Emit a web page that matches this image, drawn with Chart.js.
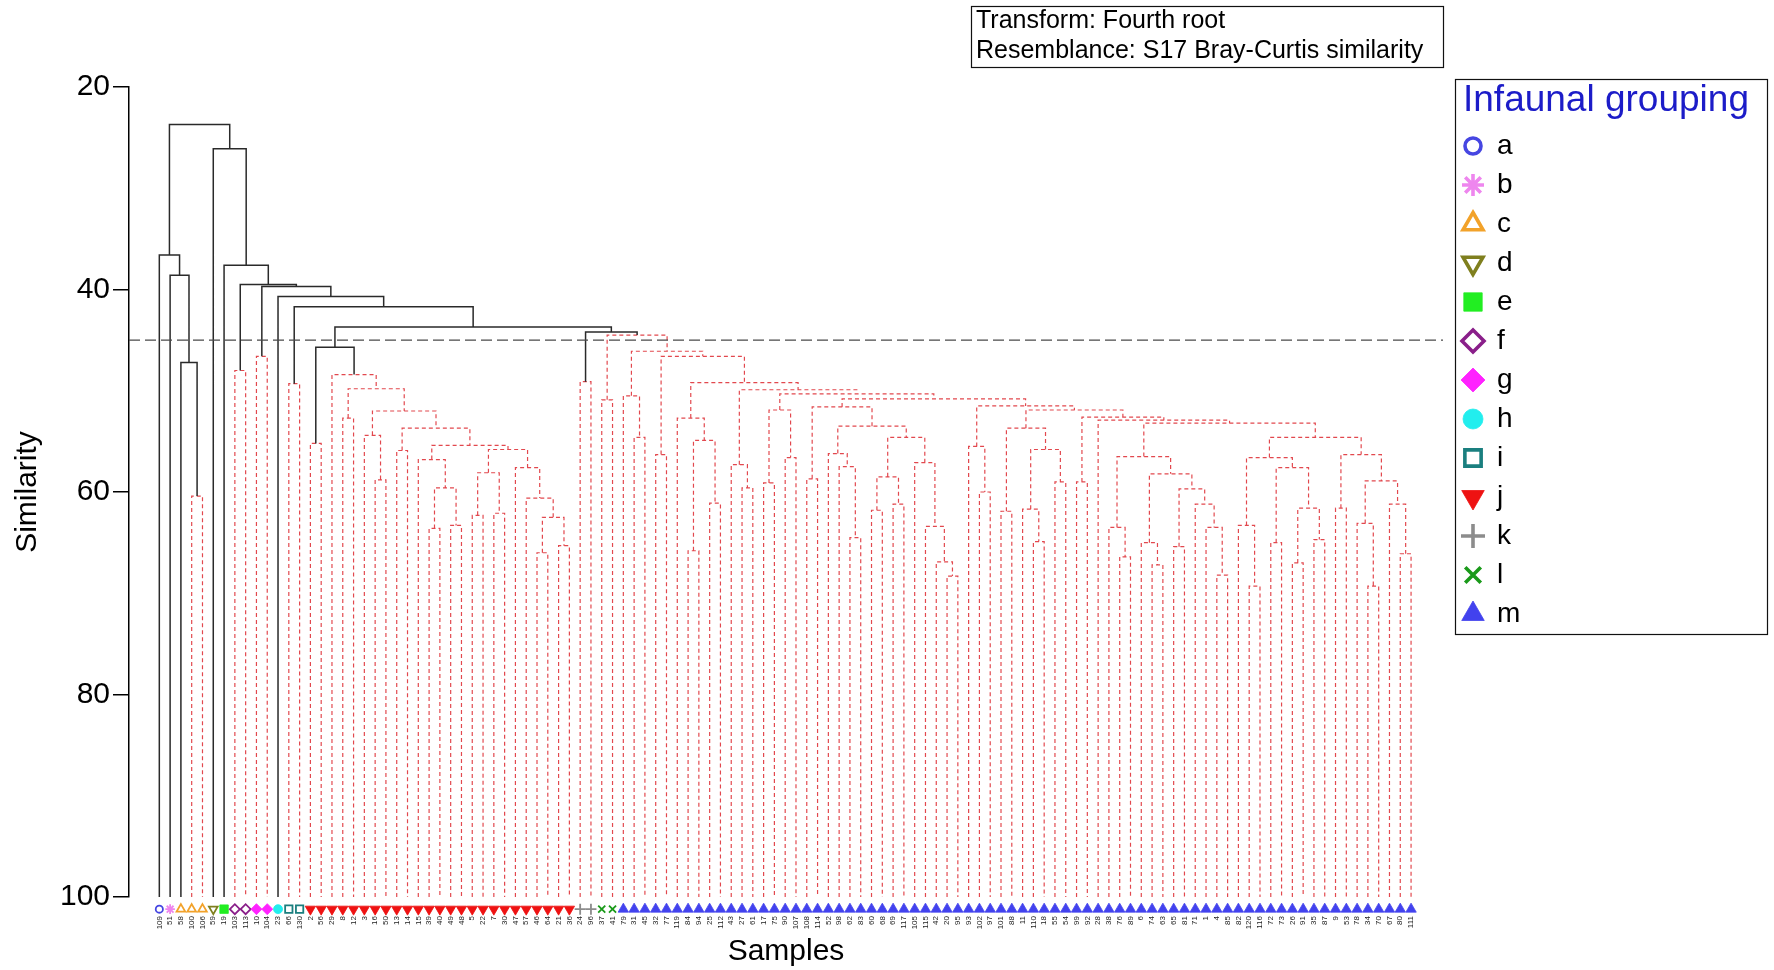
<!DOCTYPE html>
<html>
<head>
<meta charset="utf-8">
<title>Infaunal grouping dendrogram</title>
<script src="https://cdn.jsdelivr.net/npm/chart.js@4/dist/chart.umd.min.js"></script>
<style>
  html, body { margin: 0; padding: 0; background: #ffffff; overflow: hidden; }
  #wrap { width: 1774px; height: 970px; position: relative; }
</style>
</head>
<body>
<div id="wrap"><canvas id="dendro" width="1774" height="970"></canvas></div>
<script>
// ---- Samples in dendrogram leaf order ----
const sampleLabels = [
  '109','51','58','100','106','59','19','103','113','10','104','23','66','130',
  '2','56','29','8','12','3','16','50','13','14','15','39','40','49','48','5','22','7','30','47','57','46','64','21','36',
  '24','96','37','41',
  '79','31','45','32','77','119','84','94','25','112','43','27','61','17','75','90','107','108','114','52',
  '98','62','83','60','68','69','117','105','115','42','20','95','93','102','97','101','88','11','110','18',
  '55','54','99','92','28','38','76','89','6','74','63','65','81','71','1','4','85','82','120','116',
  '72','73','26','91','35','87','9','53','78','34','70','67','80','111'
];

// Infaunal group of each sample, same order as sampleLabels
const sampleGroups = (
  'abcccdeffgghii' +
  'jjjjjjjjjj' + 'jjjjjjjjjj' + 'jjjjj' +
  'kkll' +
  'mmmmmmmmmm' + 'mmmmmmmmmm' + 'mmmmmmmmmm' + 'mmmmmmmmmm' +
  'mmmmmmmmmm' + 'mmmmmmmmmm' + 'mmmmmmmmmm' + 'mmmm'
).split('');

const groupKeys = ['a','b','c','d','e','f','g','h','i','j','k','l','m'];

// ---- Group-average linkage ----
// Row k joins joinLeft[k] and joinRight[k]; ids below the sample count are samples,
// id = sampleCount + k refers to the node created by row k.
const joinLeft = [
  3, 2, 1, 0, 7, 9, 12, 14, 17, 20,
  19, 22, 25, 27, 129, 24, 29, 31, 133, 35,
  37, 136, 34, 33, 135, 132, 128, 127, 125, 16,
  124, 39, 41, 44, 43, 46, 49, 51, 153, 48,
  54, 53, 56, 58, 159, 60, 64, 63, 62, 66,
  68, 166, 73, 72, 71, 70, 168, 165, 162, 76,
  75, 78, 81, 80, 83, 180, 178, 85, 89, 88,
  92, 91, 94, 98, 97, 96, 189, 188, 186, 101,
  100, 103, 105, 107, 199, 198, 197, 109, 112, 111,
  115, 114, 206, 204, 203, 195, 87, 184, 183, 177,
  175, 161, 158, 156, 152, 151, 149, 148, 147, 123,
  11, 122, 121, 6, 5, 120
];
const joinRight = [
  4, 117, 118, 119, 8, 10, 13, 15, 18, 21,
  126, 23, 26, 28, 130, 131, 30, 32, 134, 36,
  38, 137, 138, 139, 140, 141, 142, 143, 144, 145,
  146, 40, 42, 45, 150, 47, 50, 52, 154, 155,
  55, 157, 57, 59, 160, 61, 65, 163, 164, 67,
  69, 167, 74, 169, 170, 171, 172, 173, 174, 77,
  176, 79, 82, 179, 84, 181, 182, 86, 90, 185,
  93, 187, 95, 99, 190, 191, 192, 193, 194, 102,
  196, 104, 106, 108, 200, 201, 202, 110, 113, 205,
  116, 207, 208, 209, 210, 211, 212, 213, 214, 215,
  216, 217, 218, 219, 220, 221, 222, 223, 224, 225,
  226, 227, 228, 229, 230, 231
];
const joinSimilarity = [
  60.4, 47.2, 38.6, 36.6, 48.0, 46.6, 49.3, 55.2, 52.7, 58.8,
  54.4, 55.9, 63.6, 63.3, 59.6, 56.8, 62.3, 62.1, 58.1, 66.0,
  65.3, 62.5, 60.6, 57.6, 55.8, 55.4, 53.7, 52.0, 49.8, 48.4,
  45.7, 49.1, 50.9, 54.6, 50.5, 56.3, 65.8, 61.1, 54.9, 52.7,
  59.6, 57.3, 59.1, 56.6, 51.9, 58.7, 64.5, 57.5, 56.2, 61.8,
  61.2, 58.5, 68.3, 66.9, 63.4, 57.1, 54.6, 53.5, 51.6, 60.0,
  55.5, 61.9, 64.9, 61.7, 59.0, 55.8, 53.7, 59.0, 66.4, 63.5,
  67.2, 65.0, 65.4, 68.2, 63.5, 61.2, 59.7, 58.2, 56.5, 69.3,
  63.3, 65.0, 67.0, 64.7, 61.6, 57.6, 56.6, 61.6, 69.3, 63.1,
  66.1, 61.2, 58.9, 56.3, 54.6, 53.2, 52.9, 52.6, 51.9, 51.5,
  50.8, 50.3, 49.9, 49.2, 46.6, 46.1, 44.5, 44.2, 43.7, 41.7,
  40.7, 39.7, 39.5, 37.6, 26.1, 23.7
];
// SIMPROF result per join: 1 = significant structure (solid black), 0 = not significant (red dashed)
const joinSignificant = [
  0, 1, 1, 1, 0, 0, 0, 0, 0, 0,
  0, 0, 0, 0, 0, 0, 0, 0, 0, 0,
  0, 0, 0, 0, 0, 0, 0, 0, 0, 0,
  1, 0, 0, 0, 0, 0, 0, 0, 0, 0,
  0, 0, 0, 0, 0, 0, 0, 0, 0, 0,
  0, 0, 0, 0, 0, 0, 0, 0, 0, 0,
  0, 0, 0, 0, 0, 0, 0, 0, 0, 0,
  0, 0, 0, 0, 0, 0, 0, 0, 0, 0,
  0, 0, 0, 0, 0, 0, 0, 0, 0, 0,
  0, 0, 0, 0, 0, 0, 0, 0, 0, 0,
  0, 0, 0, 0, 0, 0, 0, 1, 1, 1,
  1, 1, 1, 1, 1, 1
];

const cutSimilarity = 45;            // slice level drawn as a dashed line
const similarityTicks = [20, 40, 60, 80, 100];

// ---- Styling ----
const FONT = '"Liberation Sans", Arial, Helvetica, sans-serif';
const groupStyle = {
  a: { shape: 'circle',   rot: 0,   color: '#4646e2', filled: false, r: 3.6, lr: 8.0 },
  b: { shape: 'star',     rot: 0,   color: '#ee86ee', filled: false, r: 4.8, lr: 11 },
  c: { shape: 'triangle', rot: 0,   color: '#f2a22a', filled: false, r: 5.0, lr: 11.5 },
  d: { shape: 'triangle', rot: 180, color: '#7f7f1e', filled: false, r: 5.0, lr: 11.5 },
  e: { shape: 'rect',     rot: 0,   color: '#22ee22', filled: true,  r: 6.0, lr: 13 },
  f: { shape: 'rectRot',  rot: 0,   color: '#8a1f8a', filled: false, r: 5.0, lr: 11 },
  g: { shape: 'rectRot',  rot: 0,   color: '#ff22ff', filled: true,  r: 5.5, lr: 12 },
  h: { shape: 'circle',   rot: 0,   color: '#22eeee', filled: true,  r: 4.5, lr: 10 },
  i: { shape: 'rect',     rot: 0,   color: '#1a7f7f', filled: false, r: 5.2, lr: 11.5 },
  j: { shape: 'triangle', rot: 180, color: '#ee1212', filled: true,  r: 6.0, lr: 13 },
  k: { shape: 'cross',    rot: 0,   color: '#8c8c8c', filled: false, r: 5.5, lr: 12 },
  l: { shape: 'crossRot', rot: 0,   color: '#1a9a1a', filled: false, r: 5.0, lr: 11 },
  m: { shape: 'triangle', rot: 0,   color: '#4242ee', filled: true,  r: 6.0, lr: 13 }
};

// ---- Build dendrogram paths from the linkage ----
const nodeX = sampleLabels.map((_, i) => i);
const nodeTop = sampleLabels.map(() => 100);
joinLeft.forEach((l, k) => {
  const r = joinRight[k];
  nodeX.push((nodeX[l] + nodeX[r]) / 2);
  nodeTop.push(joinSimilarity[k]);
});

const solidPath = [];
const dashedPath = [];
joinLeft.forEach((l, k) => {
  const r = joinRight[k];
  const h = joinSimilarity[k];
  const pts = [
    { x: nodeX[l], y: nodeTop[l] },
    { x: nodeX[l], y: h },
    { x: nodeX[r], y: h },
    { x: nodeX[r], y: nodeTop[r] },
    { x: nodeX[r], y: null }
  ];
  (joinSignificant[k] ? solidPath : dashedPath).push(...pts);
});

const xMin = -2.81, xMax = 118.96;
const markerRow = 101.2;  // sample symbols sit just below the 100 line

// Draws one marker with Chart.js' own point renderer
function mark(c, s, x, y, radius, hollowWidth) {
  c.save();
  c.fillStyle = s.filled ? s.color : 'rgba(0,0,0,0)';
  c.strokeStyle = s.color;
  c.lineWidth = s.filled ? 0.8 : hollowWidth;
  if (Chart.helpers && Chart.helpers.drawPoint) {
    Chart.helpers.drawPoint(c, { pointStyle: s.shape, rotation: s.rot, radius: radius, borderWidth: c.lineWidth }, x, y);
  }
  c.restore();
}

// ---- Plugins ----
const whiteBackground = {
  id: 'whiteBackground',
  beforeDraw(chart) {
    const c = chart.ctx;
    c.save();
    c.fillStyle = '#ffffff';
    c.fillRect(0, 0, chart.width, chart.height);
    c.restore();
  }
};

// Group symbol under every sample, placed with the chart's scales
const sampleSymbols = {
  id: 'sampleSymbols',
  afterDatasetsDraw(chart) {
    const c = chart.ctx;
    const xs = chart.scales.x, ys = chart.scales.y;
    const py = ys.getPixelForValue(markerRow);
    sampleGroups.forEach((g, i) => {
      const s = groupStyle[g];
      mark(c, s, xs.getPixelForValue(i), py, s.r, 1.8);
    });
  }
};

const infoBox = {
  id: 'infoBox',
  afterDraw(chart) {
    const c = chart.ctx;
    c.save();
    c.strokeStyle = '#111';
    c.lineWidth = 1.2;
    c.strokeRect(971.5, 6.5, 472, 61);
    c.fillStyle = '#000';
    c.font = '25px ' + FONT;
    c.textAlign = 'left';
    c.textBaseline = 'middle';
    c.fillText('Transform: Fourth root', 976, 21);
    c.fillText('Resemblance: S17 Bray-Curtis similarity', 976, 51);
    c.restore();
  }
};

const groupKey = {
  id: 'groupKey',
  afterDraw(chart) {
    const c = chart.ctx;
    c.save();
    c.strokeStyle = '#111';
    c.lineWidth = 1.2;
    c.strokeRect(1455.5, 79.5, 312, 555);
    c.fillStyle = '#1c1cc8';
    c.font = '37px ' + FONT;
    c.textAlign = 'left';
    c.textBaseline = 'middle';
    c.fillText('Infaunal grouping', 1463, 101);
    groupKeys.forEach((g, i) => {
      const s = groupStyle[g];
      const y = 146 + i * 39;
      mark(c, s, 1473, y, s.lr, 3.6);
      c.fillStyle = '#000';
      c.font = '28px ' + FONT;
      c.fillText(g, 1497, y);
    });
    c.restore();
  }
};

// ---- Chart ----
new Chart(document.getElementById('dendro'), {
  type: 'line',
  data: {
    datasets: [
      {
        label: 'cut',
        data: [{ x: xMin, y: cutSimilarity }, { x: xMax, y: cutSimilarity }],
        borderColor: '#4a4a4a',
        borderWidth: 1.4,
        borderDash: [11, 5],
        pointRadius: 0,
        order: 0
      },
      {
        label: 'significant',
        data: solidPath,
        borderColor: '#2a2a2a',
        borderWidth: 1.5,
        pointRadius: 0,
        spanGaps: false,
        order: 1
      },
      {
        label: 'not significant',
        data: dashedPath,
        borderColor: '#e2484e',
        borderWidth: 1.2,
        borderDash: [4, 3],
        pointRadius: 0,
        spanGaps: false,
        order: 2
      }
    ]
  },
  options: {
    responsive: false,
    animation: false,
    devicePixelRatio: 1,
    events: [],
    layout: { padding: { top: 87, right: 331, bottom: 0, left: 0 } },
    plugins: {
      legend: { display: false },
      tooltip: { enabled: false },
      title: { display: false }
    },
    elements: { line: { tension: 0 } },
    scales: {
      x: {
        type: 'linear',
        min: xMin,
        max: xMax,
        bounds: 'data',
        grid: { display: false, drawTicks: false },
        border: { display: false },
        afterBuildTicks: s => { s.ticks = sampleLabels.map((_, i) => ({ value: i })); },
        afterFit: s => { s.height = 73; },
        ticks: {
          autoSkip: false,
          minRotation: 90,
          maxRotation: 90,
          padding: 19,
          color: '#222',
          font: { size: 8, family: FONT },
          callback: v => sampleLabels[v]
        },
        title: {
          display: true,
          text: 'Samples',
          color: '#000',
          font: { size: 30, family: FONT },
          padding: { top: 0, bottom: 0 }
        }
      },
      y: {
        type: 'linear',
        min: 20,
        max: 100,
        reverse: true,
        afterBuildTicks: s => { s.ticks = similarityTicks.map(v => ({ value: v })); },
        afterFit: s => { s.width = 129; },
        grid: { display: true, drawOnChartArea: false, drawTicks: true, tickLength: 16, color: '#000', lineWidth: 1.5 },
        border: { display: true, color: '#000', width: 1.5 },
        ticks: { color: '#000', padding: 3, font: { size: 30, family: FONT } },
        title: {
          display: true,
          text: 'Similarity',
          color: '#000',
          font: { size: 30, family: FONT },
          padding: { top: 10, bottom: 0 }
        }
      }
    }
  },
  plugins: [whiteBackground, sampleSymbols, infoBox, groupKey]
});
</script>
</body>
</html>
